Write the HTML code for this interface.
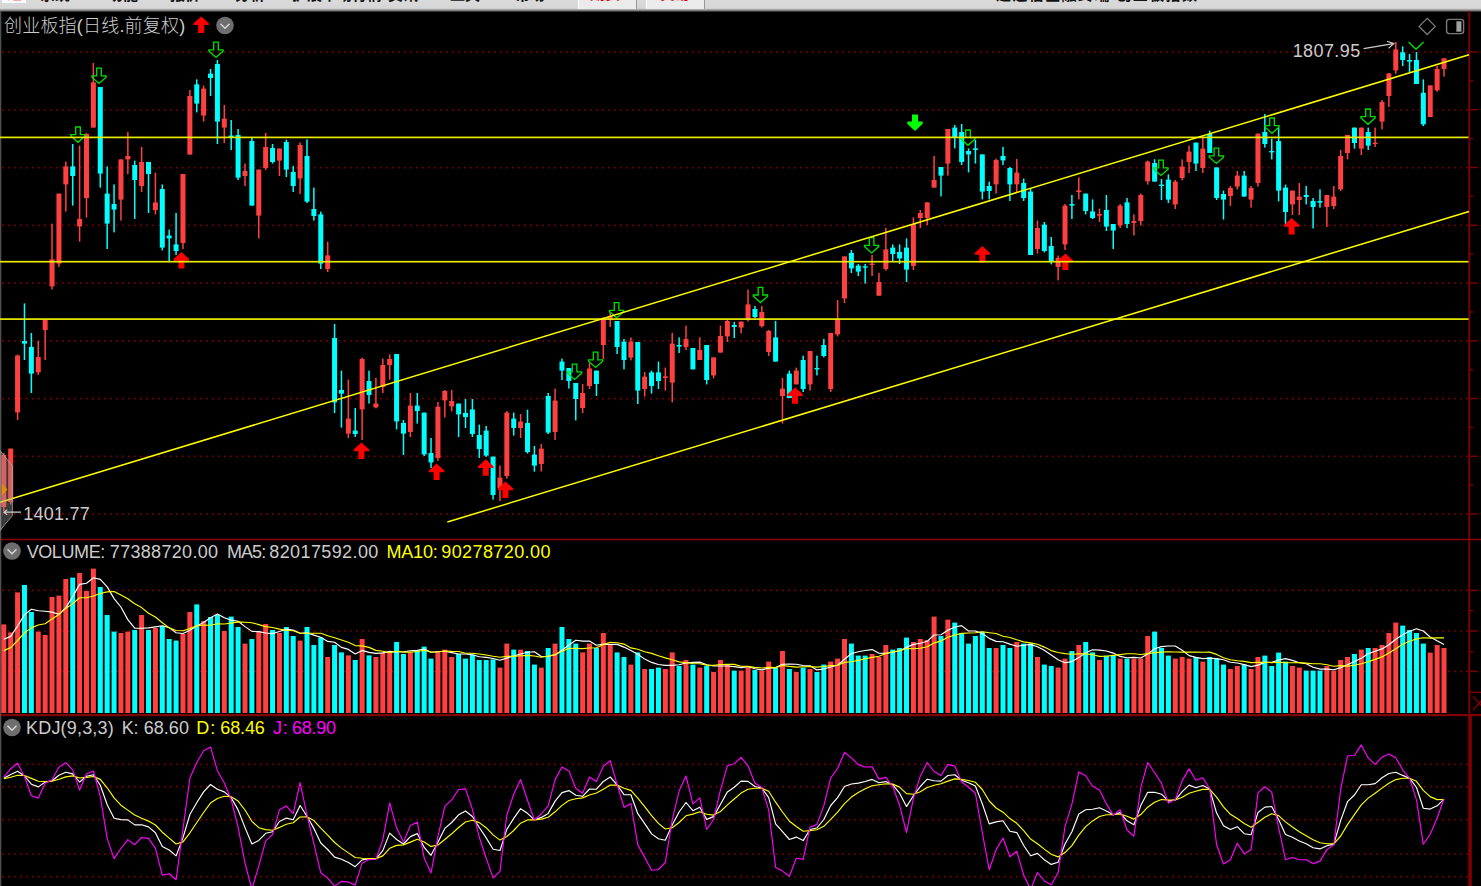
<!DOCTYPE html>
<html><head><meta charset="utf-8"><title>创业板指</title>
<style>
html,body{margin:0;padding:0;background:#000;}
body{width:1481px;height:886px;overflow:hidden;position:relative;font-family:"Liberation Sans", "Noto Sans CJK SC", sans-serif;}
#top{position:absolute;left:0;top:0;width:1481px;height:11px;overflow:hidden;background:linear-gradient(#dadada 0px,#d6d6d6 8.3px,#8a8a8a 10.3px,#000 12.3px);height:13px;}
#top span{position:absolute;top:-12.9px;font-size:15px;line-height:16px;color:#111;white-space:nowrap;font-weight:bold;}
#top .btn{position:absolute;top:0;height:9px;background:#ebebeb;border-left:1px solid #fff;border-right:1px solid #999;}
svg{position:absolute;left:0;top:0;}
.t{position:absolute;white-space:pre;color:#cccccc;font-size:18px;line-height:20px;}
.y{color:#ffff00;} .m{color:#ff00ff;}
</style></head><body>
<div id="top">
<div class="btn" style="left:578px;width:57px"></div><div class="btn" style="left:646px;width:57px"></div>
<div style="position:absolute;left:1.5px;top:0;width:24px;height:3px;background:#fafafa"></div>
<span style="left:7px;color:#ff6060;top:-14px">通</span>
<span style="left:40px">系统</span><span style="left:108px">功能</span><span style="left:170px">报价</span><span style="left:235px">分析</span><span style="left:292px">扩展市场行情</span><span style="left:388px">资讯</span><span style="left:450px">工具</span><span style="left:515px">帮助</span>
<span style="left:590px;color:#e00000;top:-13.6px">期货</span><span style="left:660px;color:#e00000;top:-13.6px">交易</span>
<span style="left:996px;letter-spacing:1.4px">通达信金融终端 创业板指数</span>
</div>
<svg width="1481" height="886" viewBox="0 0 1481 886">
<line x1="2" y1="52.2" x2="1468" y2="52.2" stroke="#780000" stroke-width="1.7" stroke-dasharray="1.7 4.3"/>
<line x1="2" y1="110.0" x2="1468" y2="110.0" stroke="#780000" stroke-width="1.7" stroke-dasharray="1.7 4.3"/>
<line x1="2" y1="167.7" x2="1468" y2="167.7" stroke="#780000" stroke-width="1.7" stroke-dasharray="1.7 4.3"/>
<line x1="2" y1="225.4" x2="1468" y2="225.4" stroke="#780000" stroke-width="1.7" stroke-dasharray="1.7 4.3"/>
<line x1="2" y1="283.2" x2="1468" y2="283.2" stroke="#780000" stroke-width="1.7" stroke-dasharray="1.7 4.3"/>
<line x1="2" y1="340.9" x2="1468" y2="340.9" stroke="#780000" stroke-width="1.7" stroke-dasharray="1.7 4.3"/>
<line x1="2" y1="398.7" x2="1468" y2="398.7" stroke="#780000" stroke-width="1.7" stroke-dasharray="1.7 4.3"/>
<line x1="2" y1="456.4" x2="1468" y2="456.4" stroke="#780000" stroke-width="1.7" stroke-dasharray="1.7 4.3"/>
<line x1="2" y1="514.2" x2="1468" y2="514.2" stroke="#780000" stroke-width="1.7" stroke-dasharray="1.7 4.3"/>
<line x1="2" y1="590.4" x2="1468" y2="590.4" stroke="#780000" stroke-width="1.7" stroke-dasharray="1.7 4.3"/>
<line x1="2" y1="631" x2="1468" y2="631" stroke="#780000" stroke-width="1.7" stroke-dasharray="1.7 4.3"/>
<line x1="2" y1="671.4" x2="1468" y2="671.4" stroke="#780000" stroke-width="1.7" stroke-dasharray="1.7 4.3"/>
<line x1="2" y1="764.4" x2="1468" y2="764.4" stroke="#780000" stroke-width="1.7" stroke-dasharray="1.7 4.3"/>
<line x1="2" y1="786.6" x2="1468" y2="786.6" stroke="#780000" stroke-width="1.7" stroke-dasharray="1.7 4.3"/>
<line x1="2" y1="819.6" x2="1468" y2="819.6" stroke="#780000" stroke-width="1.7" stroke-dasharray="1.7 4.3"/>
<line x1="2" y1="854" x2="1468" y2="854" stroke="#780000" stroke-width="1.7" stroke-dasharray="1.7 4.3"/>
<line x1="2" y1="876.6" x2="1468" y2="876.6" stroke="#780000" stroke-width="1.7" stroke-dasharray="1.7 4.3"/>
<rect x="1468.3" y="11" width="1.9" height="875" fill="#800000"/>
<rect x="0" y="538.7" width="1481" height="1.6" fill="#880000"/>
<rect x="0" y="714" width="1481" height="2.2" fill="#800000"/>
<rect x="0" y="11" width="1.3" height="875" fill="#505050"/>
<rect x="1470" y="51.3" width="8" height="1.4" fill="#800000"/>
<rect x="1470" y="80.2" width="3.2" height="1.4" fill="#800000"/>
<rect x="1470" y="109.0" width="8" height="1.4" fill="#800000"/>
<rect x="1470" y="137.9" width="3.2" height="1.4" fill="#800000"/>
<rect x="1470" y="166.8" width="8" height="1.4" fill="#800000"/>
<rect x="1470" y="195.7" width="3.2" height="1.4" fill="#800000"/>
<rect x="1470" y="224.6" width="8" height="1.4" fill="#800000"/>
<rect x="1470" y="253.4" width="3.2" height="1.4" fill="#800000"/>
<rect x="1470" y="282.3" width="8" height="1.4" fill="#800000"/>
<rect x="1470" y="311.2" width="3.2" height="1.4" fill="#800000"/>
<rect x="1470" y="340.1" width="8" height="1.4" fill="#800000"/>
<rect x="1470" y="368.9" width="3.2" height="1.4" fill="#800000"/>
<rect x="1470" y="397.8" width="8" height="1.4" fill="#800000"/>
<rect x="1470" y="426.7" width="3.2" height="1.4" fill="#800000"/>
<rect x="1470" y="455.6" width="8" height="1.4" fill="#800000"/>
<rect x="1470" y="484.4" width="3.2" height="1.4" fill="#800000"/>
<rect x="1470" y="513.3" width="8" height="1.4" fill="#800000"/>
<rect x="1470" y="589.7" width="8" height="1.4" fill="#800000"/>
<rect x="1470" y="630.3" width="8" height="1.4" fill="#800000"/>
<rect x="1470" y="670.7" width="8" height="1.4" fill="#800000"/>
<rect x="1470" y="610.0" width="3.2" height="1.4" fill="#800000"/>
<rect x="1470" y="650.9" width="3.2" height="1.4" fill="#800000"/>
<rect x="1470" y="691.6" width="11" height="1.5" fill="#800000"/>
<path d="M1473.1 696.4 L1482 706.4 M1473.1 710 L1482 700" stroke="#800000" stroke-width="1.4" fill="none"/>
<rect x="1468.6" y="716" width="3.2" height="170" fill="#800000"/>
<rect x="3.05" y="453.0" width="1.5" height="58.0" fill="#ff4040"/>
<rect x="1.30" y="455.0" width="5" height="52.0" fill="#ff4040"/>
<rect x="9.94" y="448.6" width="1.5" height="55.9" fill="#ff4040"/>
<rect x="8.19" y="448.6" width="5" height="53.4" fill="#ff4040"/>
<rect x="16.83" y="354.5" width="1.5" height="65.5" fill="#ff4040"/>
<rect x="15.08" y="355.5" width="5" height="56.9" fill="#ff4040"/>
<rect x="23.72" y="303.4" width="1.5" height="56.6" fill="#00ffff"/>
<rect x="21.97" y="341.0" width="5" height="2.6" fill="#00ffff"/>
<rect x="30.61" y="333.0" width="1.5" height="60.0" fill="#00ffff"/>
<rect x="28.86" y="347.0" width="5" height="26.6" fill="#00ffff"/>
<rect x="37.50" y="341.0" width="1.5" height="34.0" fill="#ff4040"/>
<rect x="35.75" y="357.0" width="5" height="15.4" fill="#ff4040"/>
<rect x="44.40" y="319.4" width="1.5" height="40.6" fill="#ff4040"/>
<rect x="42.65" y="319.4" width="5" height="10.6" fill="#ff4040"/>
<rect x="51.29" y="223.6" width="1.5" height="66.0" fill="#ff4040"/>
<rect x="49.54" y="259.4" width="5" height="27.0" fill="#ff4040"/>
<rect x="58.18" y="193.6" width="1.5" height="73.4" fill="#ff4040"/>
<rect x="56.43" y="193.6" width="5" height="70.0" fill="#ff4040"/>
<rect x="65.07" y="161.6" width="1.5" height="50.0" fill="#ff4040"/>
<rect x="63.32" y="166.4" width="5" height="18.0" fill="#ff4040"/>
<rect x="71.96" y="144.0" width="1.5" height="61.6" fill="#00ffff"/>
<rect x="70.21" y="166.4" width="5" height="9.6" fill="#00ffff"/>
<rect x="78.85" y="145.6" width="1.5" height="96.0" fill="#ff4040"/>
<rect x="77.10" y="219.0" width="5" height="7.4" fill="#ff4040"/>
<rect x="85.74" y="133.0" width="1.5" height="84.6" fill="#ff4040"/>
<rect x="83.99" y="134.0" width="5" height="64.0" fill="#ff4040"/>
<rect x="92.63" y="63.0" width="1.5" height="64.6" fill="#ff4040"/>
<rect x="90.88" y="82.4" width="5" height="45.2" fill="#ff4040"/>
<rect x="99.52" y="87.0" width="1.5" height="100.6" fill="#00ffff"/>
<rect x="97.77" y="87.0" width="5" height="86.6" fill="#00ffff"/>
<rect x="106.41" y="166.4" width="1.5" height="82.6" fill="#00ffff"/>
<rect x="104.66" y="193.6" width="5" height="30.0" fill="#00ffff"/>
<rect x="113.31" y="184.4" width="1.5" height="48.0" fill="#00ffff"/>
<rect x="111.56" y="204.0" width="5" height="5.6" fill="#00ffff"/>
<rect x="120.20" y="159.4" width="1.5" height="61.2" fill="#ff4040"/>
<rect x="118.45" y="159.4" width="5" height="40.2" fill="#ff4040"/>
<rect x="127.09" y="132.0" width="1.5" height="42.0" fill="#ff4040"/>
<rect x="125.34" y="156.0" width="5" height="3.4" fill="#ff4040"/>
<rect x="133.98" y="160.6" width="1.5" height="58.4" fill="#00ffff"/>
<rect x="132.23" y="165.0" width="5" height="15.0" fill="#00ffff"/>
<rect x="140.87" y="147.0" width="1.5" height="45.0" fill="#ff4040"/>
<rect x="139.12" y="162.0" width="5" height="24.0" fill="#ff4040"/>
<rect x="147.76" y="162.0" width="1.5" height="51.0" fill="#00ffff"/>
<rect x="146.01" y="162.0" width="5" height="12.0" fill="#00ffff"/>
<rect x="154.65" y="172.6" width="1.5" height="41.8" fill="#ff4040"/>
<rect x="152.90" y="202.5" width="5" height="7.5" fill="#ff4040"/>
<rect x="161.54" y="184.4" width="1.5" height="66.0" fill="#00ffff"/>
<rect x="159.79" y="189.0" width="5" height="58.6" fill="#00ffff"/>
<rect x="168.43" y="229.6" width="1.5" height="31.4" fill="#00ffff"/>
<rect x="166.68" y="235.6" width="5" height="2.8" fill="#00ffff"/>
<rect x="175.33" y="213.0" width="1.5" height="42.0" fill="#00ffff"/>
<rect x="173.58" y="244.4" width="5" height="6.6" fill="#00ffff"/>
<rect x="182.22" y="174.0" width="1.5" height="75.0" fill="#ff4040"/>
<rect x="180.47" y="174.0" width="5" height="69.0" fill="#ff4040"/>
<rect x="189.11" y="90.0" width="1.5" height="64.6" fill="#ff4040"/>
<rect x="187.36" y="96.0" width="5" height="58.6" fill="#ff4040"/>
<rect x="196.00" y="79.4" width="1.5" height="33.0" fill="#00ffff"/>
<rect x="194.25" y="84.4" width="5" height="19.2" fill="#00ffff"/>
<rect x="202.89" y="85.6" width="1.5" height="36.0" fill="#ff4040"/>
<rect x="201.14" y="88.6" width="5" height="27.0" fill="#ff4040"/>
<rect x="209.78" y="69.0" width="1.5" height="27.0" fill="#00ffff"/>
<rect x="208.03" y="73.6" width="5" height="4.4" fill="#00ffff"/>
<rect x="216.67" y="60.0" width="1.5" height="84.0" fill="#00ffff"/>
<rect x="214.92" y="64.0" width="5" height="57.6" fill="#00ffff"/>
<rect x="223.56" y="105.0" width="1.5" height="38.0" fill="#ff4040"/>
<rect x="221.81" y="118.6" width="5" height="9.0" fill="#ff4040"/>
<rect x="230.45" y="120.0" width="1.5" height="30.0" fill="#00ffff"/>
<rect x="228.70" y="135.6" width="5" height="2.4" fill="#00ffff"/>
<rect x="237.34" y="129.0" width="1.5" height="51.0" fill="#00ffff"/>
<rect x="235.59" y="135.0" width="5" height="42.6" fill="#00ffff"/>
<rect x="244.24" y="163.6" width="1.5" height="22.4" fill="#ff4040"/>
<rect x="242.49" y="171.0" width="5" height="5.0" fill="#ff4040"/>
<rect x="251.13" y="138.0" width="1.5" height="67.6" fill="#00ffff"/>
<rect x="249.38" y="141.0" width="5" height="64.6" fill="#00ffff"/>
<rect x="258.02" y="169.6" width="1.5" height="68.8" fill="#ff4040"/>
<rect x="256.27" y="169.6" width="5" height="46.0" fill="#ff4040"/>
<rect x="264.91" y="133.0" width="1.5" height="37.0" fill="#ff4040"/>
<rect x="263.16" y="147.0" width="5" height="21.0" fill="#ff4040"/>
<rect x="271.80" y="144.0" width="1.5" height="19.6" fill="#00ffff"/>
<rect x="270.05" y="148.0" width="5" height="14.0" fill="#00ffff"/>
<rect x="278.69" y="148.6" width="1.5" height="27.4" fill="#ff4040"/>
<rect x="276.94" y="148.6" width="5" height="12.0" fill="#ff4040"/>
<rect x="285.58" y="139.6" width="1.5" height="37.4" fill="#00ffff"/>
<rect x="283.83" y="142.0" width="5" height="27.6" fill="#00ffff"/>
<rect x="292.47" y="166.0" width="1.5" height="26.0" fill="#00ffff"/>
<rect x="290.72" y="172.0" width="5" height="14.0" fill="#00ffff"/>
<rect x="299.36" y="142.4" width="1.5" height="51.6" fill="#ff4040"/>
<rect x="297.61" y="145.0" width="5" height="33.4" fill="#ff4040"/>
<rect x="306.25" y="139.4" width="1.5" height="63.6" fill="#00ffff"/>
<rect x="304.50" y="156.0" width="5" height="45.6" fill="#00ffff"/>
<rect x="313.15" y="187.6" width="1.5" height="33.0" fill="#00ffff"/>
<rect x="311.40" y="209.0" width="5" height="7.0" fill="#00ffff"/>
<rect x="320.04" y="211.6" width="1.5" height="57.4" fill="#00ffff"/>
<rect x="318.29" y="214.4" width="5" height="49.2" fill="#00ffff"/>
<rect x="326.93" y="241.6" width="1.5" height="30.4" fill="#ff4040"/>
<rect x="325.18" y="255.4" width="5" height="13.6" fill="#ff4040"/>
<rect x="333.82" y="324.0" width="1.5" height="89.0" fill="#00ffff"/>
<rect x="332.07" y="338.0" width="5" height="64.4" fill="#00ffff"/>
<rect x="340.71" y="370.6" width="1.5" height="57.0" fill="#00ffff"/>
<rect x="338.96" y="390.0" width="5" height="3.6" fill="#00ffff"/>
<rect x="347.60" y="379.6" width="1.5" height="58.4" fill="#ff4040"/>
<rect x="345.85" y="418.6" width="5" height="15.0" fill="#ff4040"/>
<rect x="354.49" y="408.0" width="1.5" height="29.0" fill="#00ffff"/>
<rect x="352.74" y="430.6" width="5" height="3.4" fill="#00ffff"/>
<rect x="361.38" y="357.6" width="1.5" height="82.4" fill="#ff4040"/>
<rect x="359.63" y="359.0" width="5" height="50.4" fill="#ff4040"/>
<rect x="368.27" y="370.6" width="1.5" height="33.0" fill="#00ffff"/>
<rect x="366.52" y="381.0" width="5" height="14.0" fill="#00ffff"/>
<rect x="375.16" y="378.0" width="1.5" height="30.4" fill="#ff4040"/>
<rect x="373.41" y="403.6" width="5" height="3.8" fill="#ff4040"/>
<rect x="382.06" y="358.6" width="1.5" height="34.4" fill="#ff4040"/>
<rect x="380.31" y="365.0" width="5" height="22.0" fill="#ff4040"/>
<rect x="388.95" y="354.4" width="1.5" height="25.2" fill="#ff4040"/>
<rect x="387.20" y="359.0" width="5" height="6.0" fill="#ff4040"/>
<rect x="395.84" y="354.0" width="1.5" height="75.4" fill="#00ffff"/>
<rect x="394.09" y="354.0" width="5" height="67.4" fill="#00ffff"/>
<rect x="402.73" y="420.0" width="1.5" height="35.0" fill="#00ffff"/>
<rect x="400.98" y="423.0" width="5" height="10.6" fill="#00ffff"/>
<rect x="409.62" y="393.0" width="1.5" height="44.0" fill="#ff4040"/>
<rect x="407.87" y="405.6" width="5" height="26.4" fill="#ff4040"/>
<rect x="416.51" y="393.0" width="1.5" height="30.6" fill="#00ffff"/>
<rect x="414.76" y="405.6" width="5" height="5.4" fill="#00ffff"/>
<rect x="423.40" y="412.6" width="1.5" height="43.4" fill="#00ffff"/>
<rect x="421.65" y="412.6" width="5" height="41.8" fill="#00ffff"/>
<rect x="430.29" y="438.0" width="1.5" height="30.0" fill="#00ffff"/>
<rect x="428.54" y="453.0" width="5" height="9.4" fill="#00ffff"/>
<rect x="437.18" y="402.0" width="1.5" height="59.0" fill="#ff4040"/>
<rect x="435.43" y="406.6" width="5" height="51.4" fill="#ff4040"/>
<rect x="444.07" y="390.0" width="1.5" height="27.4" fill="#ff4040"/>
<rect x="442.32" y="391.0" width="5" height="9.4" fill="#ff4040"/>
<rect x="450.97" y="390.0" width="1.5" height="21.4" fill="#ff4040"/>
<rect x="449.22" y="401.0" width="5" height="5.4" fill="#ff4040"/>
<rect x="457.86" y="403.6" width="1.5" height="33.4" fill="#00ffff"/>
<rect x="456.11" y="403.6" width="5" height="10.8" fill="#00ffff"/>
<rect x="464.75" y="399.0" width="1.5" height="29.0" fill="#00ffff"/>
<rect x="463.00" y="413.0" width="5" height="4.0" fill="#00ffff"/>
<rect x="471.64" y="399.0" width="1.5" height="38.0" fill="#00ffff"/>
<rect x="469.89" y="409.4" width="5" height="24.6" fill="#00ffff"/>
<rect x="478.53" y="424.6" width="1.5" height="33.4" fill="#00ffff"/>
<rect x="476.78" y="435.0" width="5" height="14.0" fill="#00ffff"/>
<rect x="485.42" y="426.0" width="1.5" height="31.0" fill="#00ffff"/>
<rect x="483.67" y="430.6" width="5" height="25.0" fill="#00ffff"/>
<rect x="492.31" y="456.6" width="1.5" height="43.0" fill="#00ffff"/>
<rect x="490.56" y="456.6" width="5" height="38.4" fill="#00ffff"/>
<rect x="499.20" y="465.6" width="1.5" height="35.4" fill="#ff4040"/>
<rect x="497.45" y="477.6" width="5" height="10.4" fill="#ff4040"/>
<rect x="506.09" y="411.0" width="1.5" height="67.6" fill="#ff4040"/>
<rect x="504.34" y="412.6" width="5" height="63.4" fill="#ff4040"/>
<rect x="512.98" y="412.6" width="1.5" height="23.0" fill="#00ffff"/>
<rect x="511.23" y="418.6" width="5" height="9.4" fill="#00ffff"/>
<rect x="519.88" y="414.0" width="1.5" height="24.0" fill="#ff4040"/>
<rect x="518.12" y="421.6" width="5" height="6.4" fill="#ff4040"/>
<rect x="526.77" y="409.6" width="1.5" height="44.0" fill="#00ffff"/>
<rect x="525.02" y="423.0" width="5" height="29.0" fill="#00ffff"/>
<rect x="533.66" y="446.0" width="1.5" height="25.6" fill="#00ffff"/>
<rect x="531.91" y="454.6" width="5" height="11.0" fill="#00ffff"/>
<rect x="540.55" y="444.0" width="1.5" height="27.6" fill="#ff4040"/>
<rect x="538.80" y="448.6" width="5" height="15.4" fill="#ff4040"/>
<rect x="547.44" y="393.0" width="1.5" height="41.0" fill="#00ffff"/>
<rect x="545.69" y="396.0" width="5" height="36.6" fill="#00ffff"/>
<rect x="554.33" y="388.6" width="1.5" height="51.4" fill="#ff4040"/>
<rect x="552.58" y="400.6" width="5" height="31.4" fill="#ff4040"/>
<rect x="561.22" y="358.6" width="1.5" height="21.4" fill="#00ffff"/>
<rect x="559.47" y="361.6" width="5" height="9.0" fill="#00ffff"/>
<rect x="568.11" y="368.0" width="1.5" height="20.6" fill="#00ffff"/>
<rect x="566.36" y="368.0" width="5" height="13.0" fill="#00ffff"/>
<rect x="575.00" y="383.0" width="1.5" height="37.4" fill="#00ffff"/>
<rect x="573.25" y="383.0" width="5" height="16.0" fill="#00ffff"/>
<rect x="581.89" y="384.0" width="1.5" height="29.0" fill="#ff4040"/>
<rect x="580.14" y="393.0" width="5" height="15.0" fill="#ff4040"/>
<rect x="588.78" y="363.0" width="1.5" height="26.0" fill="#ff4040"/>
<rect x="587.03" y="368.5" width="5" height="17.5" fill="#ff4040"/>
<rect x="595.68" y="370.6" width="1.5" height="25.4" fill="#00ffff"/>
<rect x="593.93" y="370.6" width="5" height="13.4" fill="#00ffff"/>
<rect x="602.57" y="317.0" width="1.5" height="42.0" fill="#ff4040"/>
<rect x="600.82" y="319.0" width="5" height="26.0" fill="#ff4040"/>
<rect x="609.46" y="312.0" width="1.5" height="15.0" fill="#ff4040"/>
<rect x="607.71" y="316.0" width="5" height="4.0" fill="#ff4040"/>
<rect x="616.35" y="321.0" width="1.5" height="33.0" fill="#00ffff"/>
<rect x="614.60" y="321.0" width="5" height="26.0" fill="#00ffff"/>
<rect x="623.24" y="339.0" width="1.5" height="30.4" fill="#00ffff"/>
<rect x="621.49" y="341.6" width="5" height="18.4" fill="#00ffff"/>
<rect x="630.13" y="337.4" width="1.5" height="23.0" fill="#ff4040"/>
<rect x="628.38" y="341.6" width="5" height="16.0" fill="#ff4040"/>
<rect x="637.02" y="342.0" width="1.5" height="62.0" fill="#00ffff"/>
<rect x="635.27" y="342.0" width="5" height="48.6" fill="#00ffff"/>
<rect x="643.91" y="372.0" width="1.5" height="24.6" fill="#ff4040"/>
<rect x="642.16" y="376.6" width="5" height="12.4" fill="#ff4040"/>
<rect x="650.80" y="370.6" width="1.5" height="23.0" fill="#00ffff"/>
<rect x="649.05" y="372.4" width="5" height="13.6" fill="#00ffff"/>
<rect x="657.69" y="361.6" width="1.5" height="27.4" fill="#00ffff"/>
<rect x="655.94" y="372.4" width="5" height="8.6" fill="#00ffff"/>
<rect x="664.59" y="367.6" width="1.5" height="23.0" fill="#ff4040"/>
<rect x="662.84" y="376.4" width="5" height="1.6" fill="#ff4040"/>
<rect x="671.48" y="333.0" width="1.5" height="69.4" fill="#ff4040"/>
<rect x="669.73" y="343.6" width="5" height="39.0" fill="#ff4040"/>
<rect x="678.37" y="337.4" width="1.5" height="15.6" fill="#00ffff"/>
<rect x="676.62" y="345.0" width="5" height="1.6" fill="#00ffff"/>
<rect x="685.26" y="325.6" width="1.5" height="24.4" fill="#ff4040"/>
<rect x="683.51" y="339.0" width="5" height="8.0" fill="#ff4040"/>
<rect x="692.15" y="348.0" width="1.5" height="21.4" fill="#00ffff"/>
<rect x="690.40" y="348.0" width="5" height="21.4" fill="#00ffff"/>
<rect x="699.04" y="337.4" width="1.5" height="22.6" fill="#ff4040"/>
<rect x="697.29" y="350.0" width="5" height="10.0" fill="#ff4040"/>
<rect x="705.93" y="345.0" width="1.5" height="39.4" fill="#00ffff"/>
<rect x="704.18" y="345.0" width="5" height="35.0" fill="#00ffff"/>
<rect x="712.82" y="357.4" width="1.5" height="21.0" fill="#ff4040"/>
<rect x="711.07" y="357.4" width="5" height="18.0" fill="#ff4040"/>
<rect x="719.71" y="325.6" width="1.5" height="27.0" fill="#ff4040"/>
<rect x="717.96" y="336.0" width="5" height="16.6" fill="#ff4040"/>
<rect x="726.60" y="319.0" width="1.5" height="23.0" fill="#ff4040"/>
<rect x="724.85" y="321.0" width="5" height="15.4" fill="#ff4040"/>
<rect x="733.50" y="322.0" width="1.5" height="16.0" fill="#00ffff"/>
<rect x="731.75" y="325.0" width="5" height="2.0" fill="#00ffff"/>
<rect x="740.39" y="321.6" width="1.5" height="11.8" fill="#ff4040"/>
<rect x="738.64" y="321.6" width="5" height="6.0" fill="#ff4040"/>
<rect x="747.28" y="289.6" width="1.5" height="32.0" fill="#ff4040"/>
<rect x="745.53" y="304.4" width="5" height="14.6" fill="#ff4040"/>
<rect x="754.17" y="306.0" width="1.5" height="12.4" fill="#00ffff"/>
<rect x="752.42" y="309.0" width="5" height="8.0" fill="#00ffff"/>
<rect x="761.06" y="306.0" width="1.5" height="21.6" fill="#ff4040"/>
<rect x="759.31" y="312.0" width="5" height="14.0" fill="#ff4040"/>
<rect x="767.95" y="330.0" width="1.5" height="26.0" fill="#ff4040"/>
<rect x="766.20" y="331.0" width="5" height="21.0" fill="#ff4040"/>
<rect x="774.84" y="321.0" width="1.5" height="40.6" fill="#00ffff"/>
<rect x="773.09" y="337.4" width="5" height="24.2" fill="#00ffff"/>
<rect x="781.73" y="378.0" width="1.5" height="45.6" fill="#ff4040"/>
<rect x="779.98" y="388.6" width="5" height="7.4" fill="#ff4040"/>
<rect x="788.62" y="370.6" width="1.5" height="27.4" fill="#00ffff"/>
<rect x="786.87" y="373.6" width="5" height="24.4" fill="#00ffff"/>
<rect x="795.51" y="367.6" width="1.5" height="16.8" fill="#ff4040"/>
<rect x="793.76" y="370.6" width="5" height="13.8" fill="#ff4040"/>
<rect x="802.41" y="355.6" width="1.5" height="36.4" fill="#00ffff"/>
<rect x="800.66" y="360.0" width="5" height="29.0" fill="#00ffff"/>
<rect x="809.30" y="351.0" width="1.5" height="39.6" fill="#ff4040"/>
<rect x="807.55" y="351.0" width="5" height="33.4" fill="#ff4040"/>
<rect x="816.19" y="355.6" width="1.5" height="19.8" fill="#00ffff"/>
<rect x="814.44" y="368.0" width="5" height="1.4" fill="#00ffff"/>
<rect x="823.08" y="339.0" width="1.5" height="18.4" fill="#00ffff"/>
<rect x="821.33" y="345.0" width="5" height="11.0" fill="#00ffff"/>
<rect x="829.97" y="333.0" width="1.5" height="59.0" fill="#ff4040"/>
<rect x="828.22" y="333.0" width="5" height="56.0" fill="#ff4040"/>
<rect x="836.86" y="300.0" width="1.5" height="36.4" fill="#ff4040"/>
<rect x="835.11" y="319.0" width="5" height="15.4" fill="#ff4040"/>
<rect x="843.75" y="256.4" width="1.5" height="46.6" fill="#ff4040"/>
<rect x="842.00" y="256.4" width="5" height="42.0" fill="#ff4040"/>
<rect x="850.64" y="250.0" width="1.5" height="23.0" fill="#00ffff"/>
<rect x="848.89" y="253.0" width="5" height="15.4" fill="#00ffff"/>
<rect x="857.53" y="264.0" width="1.5" height="12.0" fill="#00ffff"/>
<rect x="855.78" y="265.6" width="5" height="6.0" fill="#00ffff"/>
<rect x="864.42" y="264.0" width="1.5" height="19.6" fill="#00ffff"/>
<rect x="862.67" y="266.3" width="5" height="1.4" fill="#00ffff"/>
<rect x="871.32" y="255.0" width="1.5" height="21.0" fill="#ff4040"/>
<rect x="869.57" y="263.6" width="5" height="1.4" fill="#ff4040"/>
<rect x="878.21" y="272.8" width="1.5" height="22.9" fill="#ff4040"/>
<rect x="876.46" y="282.0" width="5" height="13.7" fill="#ff4040"/>
<rect x="885.10" y="228.0" width="1.5" height="42.6" fill="#ff4040"/>
<rect x="883.35" y="249.4" width="5" height="19.6" fill="#ff4040"/>
<rect x="891.99" y="244.4" width="1.5" height="16.6" fill="#00ffff"/>
<rect x="890.24" y="247.6" width="5" height="6.4" fill="#00ffff"/>
<rect x="898.88" y="244.4" width="1.5" height="19.6" fill="#00ffff"/>
<rect x="897.13" y="252.0" width="5" height="6.4" fill="#00ffff"/>
<rect x="905.77" y="238.4" width="1.5" height="43.6" fill="#00ffff"/>
<rect x="904.02" y="247.6" width="5" height="22.0" fill="#00ffff"/>
<rect x="912.66" y="217.4" width="1.5" height="52.6" fill="#ff4040"/>
<rect x="910.91" y="224.0" width="5" height="42.0" fill="#ff4040"/>
<rect x="919.55" y="210.0" width="1.5" height="18.0" fill="#ff4040"/>
<rect x="917.80" y="213.0" width="5" height="5.0" fill="#ff4040"/>
<rect x="926.44" y="202.4" width="1.5" height="22.6" fill="#ff4040"/>
<rect x="924.69" y="202.4" width="5" height="15.6" fill="#ff4040"/>
<rect x="933.33" y="156.0" width="1.5" height="31.6" fill="#ff4040"/>
<rect x="931.58" y="180.0" width="5" height="7.6" fill="#ff4040"/>
<rect x="940.23" y="167.0" width="1.5" height="29.4" fill="#00ffff"/>
<rect x="938.48" y="167.0" width="5" height="8.6" fill="#00ffff"/>
<rect x="947.12" y="129.0" width="1.5" height="46.6" fill="#ff4040"/>
<rect x="945.37" y="129.0" width="5" height="34.6" fill="#ff4040"/>
<rect x="954.01" y="125.0" width="1.5" height="23.4" fill="#00ffff"/>
<rect x="952.26" y="127.6" width="5" height="9.4" fill="#00ffff"/>
<rect x="960.90" y="124.0" width="1.5" height="41.0" fill="#00ffff"/>
<rect x="959.15" y="132.0" width="5" height="30.0" fill="#00ffff"/>
<rect x="967.79" y="148.4" width="1.5" height="24.0" fill="#00ffff"/>
<rect x="966.04" y="151.0" width="5" height="3.4" fill="#00ffff"/>
<rect x="974.68" y="140.0" width="1.5" height="23.6" fill="#00ffff"/>
<rect x="972.93" y="148.4" width="5" height="1.6" fill="#00ffff"/>
<rect x="981.57" y="154.4" width="1.5" height="45.0" fill="#00ffff"/>
<rect x="979.82" y="154.4" width="5" height="37.2" fill="#00ffff"/>
<rect x="988.46" y="181.6" width="1.5" height="17.8" fill="#00ffff"/>
<rect x="986.71" y="186.0" width="5" height="5.0" fill="#00ffff"/>
<rect x="995.35" y="158.6" width="1.5" height="35.0" fill="#ff4040"/>
<rect x="993.60" y="160.0" width="5" height="24.4" fill="#ff4040"/>
<rect x="1002.25" y="147.0" width="1.5" height="18.0" fill="#00ffff"/>
<rect x="1000.50" y="156.0" width="5" height="4.4" fill="#00ffff"/>
<rect x="1009.14" y="167.0" width="1.5" height="34.0" fill="#00ffff"/>
<rect x="1007.39" y="168.0" width="5" height="16.4" fill="#00ffff"/>
<rect x="1016.03" y="159.0" width="1.5" height="33.0" fill="#ff4040"/>
<rect x="1014.28" y="172.6" width="5" height="11.8" fill="#ff4040"/>
<rect x="1022.92" y="178.6" width="1.5" height="22.4" fill="#00ffff"/>
<rect x="1021.17" y="183.0" width="5" height="15.0" fill="#00ffff"/>
<rect x="1029.81" y="189.0" width="1.5" height="66.0" fill="#00ffff"/>
<rect x="1028.06" y="191.6" width="5" height="63.4" fill="#00ffff"/>
<rect x="1036.70" y="220.6" width="1.5" height="33.0" fill="#ff4040"/>
<rect x="1034.95" y="228.0" width="5" height="21.0" fill="#ff4040"/>
<rect x="1043.59" y="222.0" width="1.5" height="30.4" fill="#00ffff"/>
<rect x="1041.84" y="224.6" width="5" height="26.4" fill="#00ffff"/>
<rect x="1050.48" y="237.0" width="1.5" height="27.4" fill="#00ffff"/>
<rect x="1048.73" y="246.0" width="5" height="15.4" fill="#00ffff"/>
<rect x="1057.37" y="255.6" width="1.5" height="24.8" fill="#ff4040"/>
<rect x="1055.62" y="258.0" width="5" height="9.0" fill="#ff4040"/>
<rect x="1064.26" y="204.0" width="1.5" height="46.0" fill="#ff4040"/>
<rect x="1062.51" y="205.6" width="5" height="38.8" fill="#ff4040"/>
<rect x="1071.15" y="195.0" width="1.5" height="24.0" fill="#00ffff"/>
<rect x="1069.40" y="204.0" width="5" height="1.6" fill="#00ffff"/>
<rect x="1078.05" y="177.4" width="1.5" height="22.0" fill="#ff4040"/>
<rect x="1076.30" y="190.4" width="5" height="1.6" fill="#ff4040"/>
<rect x="1084.94" y="193.6" width="1.5" height="20.8" fill="#00ffff"/>
<rect x="1083.19" y="193.6" width="5" height="17.4" fill="#00ffff"/>
<rect x="1091.83" y="199.4" width="1.5" height="19.6" fill="#00ffff"/>
<rect x="1090.08" y="211.4" width="5" height="6.6" fill="#00ffff"/>
<rect x="1098.72" y="208.6" width="1.5" height="13.4" fill="#ff4040"/>
<rect x="1096.97" y="214.0" width="5" height="1.6" fill="#ff4040"/>
<rect x="1105.61" y="195.0" width="1.5" height="36.0" fill="#00ffff"/>
<rect x="1103.86" y="210.0" width="5" height="16.6" fill="#00ffff"/>
<rect x="1112.50" y="224.0" width="1.5" height="25.0" fill="#00ffff"/>
<rect x="1110.75" y="224.0" width="5" height="6.6" fill="#00ffff"/>
<rect x="1119.39" y="204.0" width="1.5" height="24.0" fill="#ff4040"/>
<rect x="1117.64" y="205.6" width="5" height="19.8" fill="#ff4040"/>
<rect x="1126.28" y="198.0" width="1.5" height="30.0" fill="#00ffff"/>
<rect x="1124.53" y="202.4" width="5" height="21.6" fill="#00ffff"/>
<rect x="1133.17" y="214.4" width="1.5" height="21.0" fill="#ff4040"/>
<rect x="1131.42" y="221.0" width="5" height="2.0" fill="#ff4040"/>
<rect x="1140.07" y="193.6" width="1.5" height="31.8" fill="#ff4040"/>
<rect x="1138.32" y="195.0" width="5" height="26.0" fill="#ff4040"/>
<rect x="1146.96" y="160.6" width="1.5" height="24.0" fill="#ff4040"/>
<rect x="1145.21" y="161.6" width="5" height="19.7" fill="#ff4040"/>
<rect x="1153.85" y="159.2" width="1.5" height="22.4" fill="#00ffff"/>
<rect x="1152.10" y="163.0" width="5" height="18.6" fill="#00ffff"/>
<rect x="1160.74" y="179.0" width="1.5" height="21.0" fill="#00ffff"/>
<rect x="1158.99" y="184.6" width="5" height="1.4" fill="#00ffff"/>
<rect x="1167.63" y="174.4" width="1.5" height="28.6" fill="#00ffff"/>
<rect x="1165.88" y="179.6" width="5" height="20.0" fill="#00ffff"/>
<rect x="1174.52" y="180.0" width="1.5" height="29.0" fill="#ff4040"/>
<rect x="1172.77" y="181.6" width="5" height="22.8" fill="#ff4040"/>
<rect x="1181.41" y="159.4" width="1.5" height="21.0" fill="#ff4040"/>
<rect x="1179.66" y="166.6" width="5" height="11.4" fill="#ff4040"/>
<rect x="1188.30" y="145.6" width="1.5" height="27.4" fill="#ff4040"/>
<rect x="1186.55" y="151.6" width="5" height="10.4" fill="#ff4040"/>
<rect x="1195.19" y="142.6" width="1.5" height="28.4" fill="#00ffff"/>
<rect x="1193.44" y="142.6" width="5" height="21.0" fill="#00ffff"/>
<rect x="1202.08" y="138.0" width="1.5" height="35.0" fill="#ff4040"/>
<rect x="1200.33" y="148.6" width="5" height="19.4" fill="#ff4040"/>
<rect x="1208.97" y="130.6" width="1.5" height="22.4" fill="#00ffff"/>
<rect x="1207.22" y="134.0" width="5" height="19.0" fill="#00ffff"/>
<rect x="1215.87" y="167.4" width="1.5" height="32.6" fill="#00ffff"/>
<rect x="1214.12" y="167.4" width="5" height="30.6" fill="#00ffff"/>
<rect x="1222.76" y="190.6" width="1.5" height="29.0" fill="#00ffff"/>
<rect x="1221.01" y="194.0" width="5" height="5.6" fill="#00ffff"/>
<rect x="1229.65" y="186.0" width="1.5" height="20.0" fill="#ff4040"/>
<rect x="1227.90" y="188.0" width="5" height="8.0" fill="#ff4040"/>
<rect x="1236.54" y="171.0" width="1.5" height="18.4" fill="#ff4040"/>
<rect x="1234.79" y="175.6" width="5" height="11.0" fill="#ff4040"/>
<rect x="1243.43" y="171.0" width="1.5" height="25.6" fill="#00ffff"/>
<rect x="1241.68" y="175.6" width="5" height="21.0" fill="#00ffff"/>
<rect x="1250.32" y="186.0" width="1.5" height="21.6" fill="#ff4040"/>
<rect x="1248.57" y="188.0" width="5" height="11.6" fill="#ff4040"/>
<rect x="1257.21" y="133.6" width="1.5" height="53.0" fill="#ff4040"/>
<rect x="1255.46" y="133.6" width="5" height="49.4" fill="#ff4040"/>
<rect x="1264.10" y="114.0" width="1.5" height="33.6" fill="#00ffff"/>
<rect x="1262.35" y="132.0" width="5" height="12.0" fill="#00ffff"/>
<rect x="1270.99" y="138.6" width="1.5" height="20.8" fill="#00ffff"/>
<rect x="1269.24" y="151.0" width="5" height="1.4" fill="#00ffff"/>
<rect x="1277.88" y="128.0" width="1.5" height="73.4" fill="#00ffff"/>
<rect x="1276.13" y="141.0" width="5" height="49.6" fill="#00ffff"/>
<rect x="1284.78" y="184.6" width="1.5" height="39.4" fill="#00ffff"/>
<rect x="1283.03" y="187.6" width="5" height="24.4" fill="#00ffff"/>
<rect x="1291.67" y="190.6" width="1.5" height="24.4" fill="#ff4040"/>
<rect x="1289.92" y="190.6" width="5" height="13.8" fill="#ff4040"/>
<rect x="1298.56" y="183.0" width="1.5" height="32.0" fill="#ff4040"/>
<rect x="1296.81" y="196.6" width="5" height="3.4" fill="#ff4040"/>
<rect x="1305.45" y="186.0" width="1.5" height="18.4" fill="#00ffff"/>
<rect x="1303.70" y="195.0" width="5" height="2.0" fill="#00ffff"/>
<rect x="1312.34" y="198.0" width="1.5" height="30.4" fill="#00ffff"/>
<rect x="1310.59" y="201.0" width="5" height="6.0" fill="#00ffff"/>
<rect x="1319.23" y="189.4" width="1.5" height="18.2" fill="#00ffff"/>
<rect x="1317.48" y="201.0" width="5" height="1.6" fill="#00ffff"/>
<rect x="1326.12" y="195.0" width="1.5" height="32.0" fill="#ff4040"/>
<rect x="1324.37" y="195.0" width="5" height="12.0" fill="#ff4040"/>
<rect x="1333.01" y="186.0" width="1.5" height="23.0" fill="#ff4040"/>
<rect x="1331.26" y="196.6" width="5" height="9.4" fill="#ff4040"/>
<rect x="1339.90" y="150.0" width="1.5" height="41.0" fill="#ff4040"/>
<rect x="1338.15" y="156.0" width="5" height="33.4" fill="#ff4040"/>
<rect x="1346.79" y="135.0" width="1.5" height="24.4" fill="#ff4040"/>
<rect x="1345.04" y="135.0" width="5" height="18.0" fill="#ff4040"/>
<rect x="1353.69" y="127.6" width="1.5" height="21.0" fill="#00ffff"/>
<rect x="1351.94" y="127.6" width="5" height="15.4" fill="#00ffff"/>
<rect x="1360.58" y="127.6" width="1.5" height="27.4" fill="#ff4040"/>
<rect x="1358.83" y="127.6" width="5" height="21.0" fill="#ff4040"/>
<rect x="1367.47" y="127.6" width="1.5" height="22.4" fill="#00ffff"/>
<rect x="1365.72" y="132.0" width="5" height="13.6" fill="#00ffff"/>
<rect x="1374.36" y="127.6" width="1.5" height="19.4" fill="#ff4040"/>
<rect x="1372.61" y="142.6" width="5" height="1.4" fill="#ff4040"/>
<rect x="1381.25" y="100.0" width="1.5" height="29.4" fill="#ff4040"/>
<rect x="1379.50" y="102.0" width="5" height="19.6" fill="#ff4040"/>
<rect x="1388.14" y="73.0" width="1.5" height="34.0" fill="#ff4040"/>
<rect x="1386.39" y="73.5" width="5" height="22.5" fill="#ff4040"/>
<rect x="1395.03" y="42.0" width="1.5" height="31.8" fill="#ff4040"/>
<rect x="1393.28" y="49.4" width="5" height="21.0" fill="#ff4040"/>
<rect x="1401.92" y="46.3" width="1.5" height="19.7" fill="#00ffff"/>
<rect x="1400.17" y="52.3" width="5" height="7.7" fill="#00ffff"/>
<rect x="1408.81" y="54.0" width="1.5" height="18.0" fill="#00ffff"/>
<rect x="1407.06" y="60.0" width="5" height="1.6" fill="#00ffff"/>
<rect x="1415.70" y="52.0" width="1.5" height="32.0" fill="#00ffff"/>
<rect x="1413.95" y="60.0" width="5" height="24.0" fill="#00ffff"/>
<rect x="1422.60" y="79.4" width="1.5" height="46.8" fill="#00ffff"/>
<rect x="1420.85" y="92.8" width="5" height="31.5" fill="#00ffff"/>
<rect x="1429.49" y="85.4" width="1.5" height="31.6" fill="#ff4040"/>
<rect x="1427.74" y="85.4" width="5" height="31.6" fill="#ff4040"/>
<rect x="1436.38" y="66.0" width="1.5" height="25.8" fill="#ff4040"/>
<rect x="1434.63" y="69.0" width="5" height="21.3" fill="#ff4040"/>
<rect x="1443.27" y="58.3" width="1.5" height="18.3" fill="#ff4040"/>
<rect x="1441.52" y="58.3" width="5" height="10.7" fill="#ff4040"/>
<path d="M75.7 127.0 L80.3 127.0 L80.3 134.7 L85.1 134.7 L85.1 136.0 L78.0 142.3 L70.9 136.0 L70.9 134.7 L75.7 134.7 Z" fill="none" stroke="#00e000" stroke-width="1.3" stroke-linejoin="miter"/>
<path d="M96.7 68.2 L101.3 68.2 L101.3 75.9 L106.1 75.9 L106.1 77.2 L99.0 83.5 L91.9 77.2 L91.9 75.9 L96.7 75.9 Z" fill="none" stroke="#00e000" stroke-width="1.3" stroke-linejoin="miter"/>
<path d="M213.7 42.1 L218.3 42.1 L218.3 49.8 L223.1 49.8 L223.1 51.1 L216.0 57.4 L208.9 51.1 L208.9 49.8 L213.7 49.8 Z" fill="none" stroke="#00e000" stroke-width="1.3" stroke-linejoin="miter"/>
<path d="M572.3 364.2 L576.9 364.2 L576.9 371.9 L581.7 371.9 L581.7 373.2 L574.6 379.5 L567.5 373.2 L567.5 371.9 L572.3 371.9 Z" fill="none" stroke="#00e000" stroke-width="1.3" stroke-linejoin="miter"/>
<path d="M593.3 352.2 L597.9 352.2 L597.9 359.9 L602.7 359.9 L602.7 361.2 L595.6 367.5 L588.5 361.2 L588.5 359.9 L593.3 359.9 Z" fill="none" stroke="#00e000" stroke-width="1.3" stroke-linejoin="miter"/>
<path d="M614.3 302.6 L618.9 302.6 L618.9 310.3 L623.7 310.3 L623.7 311.6 L616.6 317.9 L609.5 311.6 L609.5 310.3 L614.3 310.3 Z" fill="none" stroke="#00e000" stroke-width="1.3" stroke-linejoin="miter"/>
<path d="M758.2 287.3 L762.8 287.3 L762.8 295.0 L767.6 295.0 L767.6 296.3 L760.5 302.6 L753.4 296.3 L753.4 295.0 L758.2 295.0 Z" fill="none" stroke="#00e000" stroke-width="1.3" stroke-linejoin="miter"/>
<path d="M869.3 237.6 L873.9 237.6 L873.9 245.3 L878.7 245.3 L878.7 246.6 L871.6 252.9 L864.5 246.6 L864.5 245.3 L869.3 245.3 Z" fill="none" stroke="#00e000" stroke-width="1.3" stroke-linejoin="miter"/>
<path d="M965.7 130.0 L970.3 130.0 L970.3 137.7 L975.1 137.7 L975.1 139.0 L968.0 145.3 L960.9 139.0 L960.9 137.7 L965.7 137.7 Z" fill="none" stroke="#00e000" stroke-width="1.3" stroke-linejoin="miter"/>
<path d="M1158.7 160.2 L1163.3 160.2 L1163.3 167.9 L1168.1 167.9 L1168.1 169.2 L1161.0 175.5 L1153.9 169.2 L1153.9 167.9 L1158.7 167.9 Z" fill="none" stroke="#00e000" stroke-width="1.3" stroke-linejoin="miter"/>
<path d="M1214.1 148.2 L1218.7 148.2 L1218.7 155.9 L1223.5 155.9 L1223.5 157.2 L1216.4 163.5 L1209.3 157.2 L1209.3 155.9 L1214.1 155.9 Z" fill="none" stroke="#00e000" stroke-width="1.3" stroke-linejoin="miter"/>
<path d="M1269.7 118.0 L1274.3 118.0 L1274.3 125.7 L1279.1 125.7 L1279.1 127.0 L1272.0 133.3 L1264.9 127.0 L1264.9 125.7 L1269.7 125.7 Z" fill="none" stroke="#00e000" stroke-width="1.3" stroke-linejoin="miter"/>
<path d="M1365.7 109.0 L1370.3 109.0 L1370.3 116.7 L1375.1 116.7 L1375.1 118.0 L1368.0 124.3 L1360.9 118.0 L1360.9 116.7 L1365.7 116.7 Z" fill="none" stroke="#00e000" stroke-width="1.3" stroke-linejoin="miter"/>
<path d="M1408.6 42 L1416 49.3 L1423.6 42" fill="none" stroke="#00e000" stroke-width="1.3"/>
<path d="M912.0 114.4 L918.0 114.4 L918.0 121.4 L922.7 121.4 L922.7 123.8 L915.0 131.0 L907.3 123.8 L907.3 121.4 L912.0 121.4 Z" fill="#00ff00"/>
<path d="M181.4 252.0 L189.1 258.9 L189.1 260.7 L184.4 260.7 L184.4 268.5 L178.4 268.5 L178.4 260.7 L173.7 260.7 L173.7 258.9 Z" fill="#ff0000"/>
<path d="M361.4 442.6 L369.1 449.5 L369.1 451.3 L364.4 451.3 L364.4 459.1 L358.4 459.1 L358.4 451.3 L353.7 451.3 L353.7 449.5 Z" fill="#ff0000"/>
<path d="M436.6 463.6 L444.3 470.5 L444.3 472.3 L439.6 472.3 L439.6 480.1 L433.6 480.1 L433.6 472.3 L428.9 472.3 L428.9 470.5 Z" fill="#ff0000"/>
<path d="M485.8 459.3 L493.5 466.2 L493.5 468.0 L488.8 468.0 L488.8 475.8 L482.8 475.8 L482.8 468.0 L478.1 468.0 L478.1 466.2 Z" fill="#ff0000"/>
<path d="M505.5 481.6 L513.2 488.5 L513.2 490.3 L508.5 490.3 L508.5 498.1 L502.5 498.1 L502.5 490.3 L497.8 490.3 L497.8 488.5 Z" fill="#ff0000"/>
<path d="M795.0 387.3 L802.7 394.2 L802.7 396.0 L798.0 396.0 L798.0 403.8 L792.0 403.8 L792.0 396.0 L787.3 396.0 L787.3 394.2 Z" fill="#ff0000"/>
<path d="M982.4 246.0 L990.1 252.9 L990.1 254.7 L985.4 254.7 L985.4 262.5 L979.4 262.5 L979.4 254.7 L974.7 254.7 L974.7 252.9 Z" fill="#ff0000"/>
<path d="M1065.4 253.6 L1073.1 260.5 L1073.1 262.3 L1068.4 262.3 L1068.4 270.1 L1062.4 270.1 L1062.4 262.3 L1057.7 262.3 L1057.7 260.5 Z" fill="#ff0000"/>
<path d="M1291.6 218.0 L1299.3 224.9 L1299.3 226.7 L1294.6 226.7 L1294.6 234.5 L1288.6 234.5 L1288.6 226.7 L1283.9 226.7 L1283.9 224.9 Z" fill="#ff0000"/>
<path d="M201.2 16.4 L208.9 23.3 L208.9 25.1 L204.2 25.1 L204.2 32.9 L198.2 32.9 L198.2 25.1 L193.5 25.1 L193.5 23.3 Z" fill="#ff0000"/>
<rect x="0" y="136.55" width="1468.5" height="1.7" fill="#eaea00"/>
<rect x="0" y="260.84999999999997" width="1468.5" height="1.7" fill="#eaea00"/>
<rect x="0" y="318.25" width="1468.5" height="1.7" fill="#eaea00"/>
<line x1="0" y1="502.4" x2="1469" y2="54.7" stroke="#ffff00" stroke-width="1.5"/>
<line x1="447.4" y1="522" x2="1469" y2="211.5" stroke="#ffff00" stroke-width="1.5"/>
<rect x="1.30" y="624.4" width="5" height="88.6" fill="#ff4040"/>
<rect x="8.19" y="632.4" width="5" height="80.6" fill="#ff4040"/>
<rect x="15.08" y="592.4" width="5" height="120.6" fill="#ff4040"/>
<rect x="21.97" y="585.0" width="5" height="128.0" fill="#00ffff"/>
<rect x="28.86" y="612.0" width="5" height="101.0" fill="#00ffff"/>
<rect x="35.75" y="631.6" width="5" height="81.4" fill="#ff4040"/>
<rect x="42.65" y="635.0" width="5" height="78.0" fill="#ff4040"/>
<rect x="49.54" y="597.0" width="5" height="116.0" fill="#ff4040"/>
<rect x="56.43" y="595.6" width="5" height="117.4" fill="#ff4040"/>
<rect x="63.32" y="579.0" width="5" height="134.0" fill="#ff4040"/>
<rect x="70.21" y="577.6" width="5" height="135.4" fill="#00ffff"/>
<rect x="77.10" y="573.0" width="5" height="140.0" fill="#ff4040"/>
<rect x="83.99" y="591.0" width="5" height="122.0" fill="#ff4040"/>
<rect x="90.88" y="568.6" width="5" height="144.4" fill="#ff4040"/>
<rect x="97.77" y="587.0" width="5" height="126.0" fill="#00ffff"/>
<rect x="104.66" y="615.0" width="5" height="98.0" fill="#00ffff"/>
<rect x="111.56" y="631.6" width="5" height="81.4" fill="#00ffff"/>
<rect x="118.45" y="633.0" width="5" height="80.0" fill="#ff4040"/>
<rect x="125.34" y="631.6" width="5" height="81.4" fill="#ff4040"/>
<rect x="132.23" y="630.0" width="5" height="83.0" fill="#00ffff"/>
<rect x="139.12" y="615.0" width="5" height="98.0" fill="#ff4040"/>
<rect x="146.01" y="630.0" width="5" height="83.0" fill="#00ffff"/>
<rect x="152.90" y="628.0" width="5" height="85.0" fill="#ff4040"/>
<rect x="159.79" y="626.0" width="5" height="87.0" fill="#00ffff"/>
<rect x="166.68" y="639.0" width="5" height="74.0" fill="#00ffff"/>
<rect x="173.58" y="640.6" width="5" height="72.4" fill="#00ffff"/>
<rect x="180.47" y="634.0" width="5" height="79.0" fill="#ff4040"/>
<rect x="187.36" y="612.0" width="5" height="101.0" fill="#ff4040"/>
<rect x="194.25" y="604.4" width="5" height="108.6" fill="#00ffff"/>
<rect x="201.14" y="621.0" width="5" height="92.0" fill="#ff4040"/>
<rect x="208.03" y="617.0" width="5" height="96.0" fill="#00ffff"/>
<rect x="214.92" y="615.0" width="5" height="98.0" fill="#00ffff"/>
<rect x="221.81" y="631.0" width="5" height="82.0" fill="#ff4040"/>
<rect x="228.70" y="616.6" width="5" height="96.4" fill="#00ffff"/>
<rect x="235.59" y="627.0" width="5" height="86.0" fill="#00ffff"/>
<rect x="242.49" y="643.6" width="5" height="69.4" fill="#ff4040"/>
<rect x="249.38" y="639.0" width="5" height="74.0" fill="#00ffff"/>
<rect x="256.27" y="631.6" width="5" height="81.4" fill="#ff4040"/>
<rect x="263.16" y="624.0" width="5" height="89.0" fill="#ff4040"/>
<rect x="270.05" y="630.0" width="5" height="83.0" fill="#00ffff"/>
<rect x="276.94" y="633.0" width="5" height="80.0" fill="#ff4040"/>
<rect x="283.83" y="627.0" width="5" height="86.0" fill="#00ffff"/>
<rect x="290.72" y="636.0" width="5" height="77.0" fill="#00ffff"/>
<rect x="297.61" y="640.6" width="5" height="72.4" fill="#ff4040"/>
<rect x="304.50" y="627.0" width="5" height="86.0" fill="#00ffff"/>
<rect x="311.40" y="645.0" width="5" height="68.0" fill="#00ffff"/>
<rect x="318.29" y="637.4" width="5" height="75.6" fill="#00ffff"/>
<rect x="325.18" y="657.0" width="5" height="56.0" fill="#ff4040"/>
<rect x="332.07" y="645.0" width="5" height="68.0" fill="#00ffff"/>
<rect x="338.96" y="652.4" width="5" height="60.6" fill="#00ffff"/>
<rect x="345.85" y="655.4" width="5" height="57.6" fill="#ff4040"/>
<rect x="352.74" y="660.0" width="5" height="53.0" fill="#00ffff"/>
<rect x="359.63" y="639.0" width="5" height="74.0" fill="#ff4040"/>
<rect x="366.52" y="655.4" width="5" height="57.6" fill="#00ffff"/>
<rect x="373.41" y="657.0" width="5" height="56.0" fill="#ff4040"/>
<rect x="380.31" y="653.0" width="5" height="60.0" fill="#ff4040"/>
<rect x="387.20" y="652.4" width="5" height="60.6" fill="#ff4040"/>
<rect x="394.09" y="642.0" width="5" height="71.0" fill="#00ffff"/>
<rect x="400.98" y="654.0" width="5" height="59.0" fill="#00ffff"/>
<rect x="407.87" y="652.4" width="5" height="60.6" fill="#ff4040"/>
<rect x="414.76" y="650.0" width="5" height="63.0" fill="#00ffff"/>
<rect x="421.65" y="646.6" width="5" height="66.4" fill="#00ffff"/>
<rect x="428.54" y="658.6" width="5" height="54.4" fill="#00ffff"/>
<rect x="435.43" y="651.0" width="5" height="62.0" fill="#ff4040"/>
<rect x="442.32" y="649.6" width="5" height="63.4" fill="#ff4040"/>
<rect x="449.22" y="657.0" width="5" height="56.0" fill="#ff4040"/>
<rect x="456.11" y="654.0" width="5" height="59.0" fill="#00ffff"/>
<rect x="463.00" y="658.6" width="5" height="54.4" fill="#00ffff"/>
<rect x="469.89" y="654.6" width="5" height="58.4" fill="#00ffff"/>
<rect x="476.78" y="660.0" width="5" height="53.0" fill="#00ffff"/>
<rect x="483.67" y="660.0" width="5" height="53.0" fill="#00ffff"/>
<rect x="490.56" y="659.4" width="5" height="53.6" fill="#00ffff"/>
<rect x="497.45" y="667.6" width="5" height="45.4" fill="#ff4040"/>
<rect x="504.34" y="643.6" width="5" height="69.4" fill="#ff4040"/>
<rect x="511.23" y="649.6" width="5" height="63.4" fill="#00ffff"/>
<rect x="518.12" y="649.6" width="5" height="63.4" fill="#ff4040"/>
<rect x="525.02" y="651.0" width="5" height="62.0" fill="#00ffff"/>
<rect x="531.91" y="664.6" width="5" height="48.4" fill="#00ffff"/>
<rect x="538.80" y="667.6" width="5" height="45.4" fill="#ff4040"/>
<rect x="545.69" y="648.0" width="5" height="65.0" fill="#00ffff"/>
<rect x="552.58" y="643.6" width="5" height="69.4" fill="#ff4040"/>
<rect x="559.47" y="627.0" width="5" height="86.0" fill="#00ffff"/>
<rect x="566.36" y="639.0" width="5" height="74.0" fill="#00ffff"/>
<rect x="573.25" y="643.6" width="5" height="69.4" fill="#00ffff"/>
<rect x="580.14" y="652.4" width="5" height="60.6" fill="#ff4040"/>
<rect x="587.03" y="643.6" width="5" height="69.4" fill="#ff4040"/>
<rect x="593.93" y="648.0" width="5" height="65.0" fill="#00ffff"/>
<rect x="600.82" y="633.0" width="5" height="80.0" fill="#ff4040"/>
<rect x="607.71" y="645.0" width="5" height="68.0" fill="#ff4040"/>
<rect x="614.60" y="652.4" width="5" height="60.6" fill="#00ffff"/>
<rect x="621.49" y="657.0" width="5" height="56.0" fill="#00ffff"/>
<rect x="628.38" y="664.6" width="5" height="48.4" fill="#ff4040"/>
<rect x="635.27" y="652.4" width="5" height="60.6" fill="#00ffff"/>
<rect x="642.16" y="669.0" width="5" height="44.0" fill="#ff4040"/>
<rect x="649.05" y="669.0" width="5" height="44.0" fill="#00ffff"/>
<rect x="655.94" y="667.6" width="5" height="45.4" fill="#00ffff"/>
<rect x="662.84" y="669.0" width="5" height="44.0" fill="#ff4040"/>
<rect x="669.73" y="652.4" width="5" height="60.6" fill="#ff4040"/>
<rect x="676.62" y="666.0" width="5" height="47.0" fill="#00ffff"/>
<rect x="683.51" y="660.0" width="5" height="53.0" fill="#ff4040"/>
<rect x="690.40" y="664.6" width="5" height="48.4" fill="#00ffff"/>
<rect x="697.29" y="667.6" width="5" height="45.4" fill="#ff4040"/>
<rect x="704.18" y="666.0" width="5" height="47.0" fill="#00ffff"/>
<rect x="711.07" y="672.0" width="5" height="41.0" fill="#ff4040"/>
<rect x="717.96" y="660.0" width="5" height="53.0" fill="#ff4040"/>
<rect x="724.85" y="664.6" width="5" height="48.4" fill="#ff4040"/>
<rect x="731.75" y="670.6" width="5" height="42.4" fill="#00ffff"/>
<rect x="738.64" y="670.6" width="5" height="42.4" fill="#ff4040"/>
<rect x="745.53" y="667.6" width="5" height="45.4" fill="#ff4040"/>
<rect x="752.42" y="670.0" width="5" height="43.0" fill="#00ffff"/>
<rect x="759.31" y="670.6" width="5" height="42.4" fill="#ff4040"/>
<rect x="766.20" y="661.6" width="5" height="51.4" fill="#ff4040"/>
<rect x="773.09" y="668.0" width="5" height="45.0" fill="#00ffff"/>
<rect x="779.98" y="651.0" width="5" height="62.0" fill="#ff4040"/>
<rect x="786.87" y="669.0" width="5" height="44.0" fill="#00ffff"/>
<rect x="793.76" y="672.0" width="5" height="41.0" fill="#ff4040"/>
<rect x="800.66" y="667.6" width="5" height="45.4" fill="#00ffff"/>
<rect x="807.55" y="669.0" width="5" height="44.0" fill="#ff4040"/>
<rect x="814.44" y="672.0" width="5" height="41.0" fill="#00ffff"/>
<rect x="821.33" y="664.6" width="5" height="48.4" fill="#00ffff"/>
<rect x="828.22" y="661.6" width="5" height="51.4" fill="#ff4040"/>
<rect x="835.11" y="658.6" width="5" height="54.4" fill="#ff4040"/>
<rect x="842.00" y="639.0" width="5" height="74.0" fill="#ff4040"/>
<rect x="848.89" y="643.6" width="5" height="69.4" fill="#00ffff"/>
<rect x="855.78" y="655.6" width="5" height="57.4" fill="#00ffff"/>
<rect x="862.67" y="655.6" width="5" height="57.4" fill="#00ffff"/>
<rect x="869.57" y="654.0" width="5" height="59.0" fill="#ff4040"/>
<rect x="876.46" y="657.0" width="5" height="56.0" fill="#ff4040"/>
<rect x="883.35" y="645.0" width="5" height="68.0" fill="#ff4040"/>
<rect x="890.24" y="649.6" width="5" height="63.4" fill="#00ffff"/>
<rect x="897.13" y="648.0" width="5" height="65.0" fill="#00ffff"/>
<rect x="904.02" y="637.6" width="5" height="75.4" fill="#00ffff"/>
<rect x="910.91" y="642.0" width="5" height="71.0" fill="#ff4040"/>
<rect x="917.80" y="639.0" width="5" height="74.0" fill="#ff4040"/>
<rect x="924.69" y="640.0" width="5" height="73.0" fill="#ff4040"/>
<rect x="931.58" y="616.6" width="5" height="96.4" fill="#ff4040"/>
<rect x="938.48" y="636.0" width="5" height="77.0" fill="#00ffff"/>
<rect x="945.37" y="619.6" width="5" height="93.4" fill="#ff4040"/>
<rect x="952.26" y="622.6" width="5" height="90.4" fill="#00ffff"/>
<rect x="959.15" y="633.0" width="5" height="80.0" fill="#00ffff"/>
<rect x="966.04" y="643.6" width="5" height="69.4" fill="#00ffff"/>
<rect x="972.93" y="636.0" width="5" height="77.0" fill="#00ffff"/>
<rect x="979.82" y="631.6" width="5" height="81.4" fill="#00ffff"/>
<rect x="986.71" y="648.0" width="5" height="65.0" fill="#00ffff"/>
<rect x="993.60" y="648.0" width="5" height="65.0" fill="#ff4040"/>
<rect x="1000.50" y="645.0" width="5" height="68.0" fill="#00ffff"/>
<rect x="1007.39" y="648.0" width="5" height="65.0" fill="#00ffff"/>
<rect x="1014.28" y="642.0" width="5" height="71.0" fill="#ff4040"/>
<rect x="1021.17" y="643.6" width="5" height="69.4" fill="#00ffff"/>
<rect x="1028.06" y="643.6" width="5" height="69.4" fill="#00ffff"/>
<rect x="1034.95" y="657.0" width="5" height="56.0" fill="#ff4040"/>
<rect x="1041.84" y="664.6" width="5" height="48.4" fill="#00ffff"/>
<rect x="1048.73" y="666.0" width="5" height="47.0" fill="#00ffff"/>
<rect x="1055.62" y="667.6" width="5" height="45.4" fill="#ff4040"/>
<rect x="1062.51" y="658.6" width="5" height="54.4" fill="#ff4040"/>
<rect x="1069.40" y="651.0" width="5" height="62.0" fill="#00ffff"/>
<rect x="1076.30" y="645.0" width="5" height="68.0" fill="#ff4040"/>
<rect x="1083.19" y="642.0" width="5" height="71.0" fill="#00ffff"/>
<rect x="1090.08" y="652.4" width="5" height="60.6" fill="#00ffff"/>
<rect x="1096.97" y="660.0" width="5" height="53.0" fill="#ff4040"/>
<rect x="1103.86" y="655.6" width="5" height="57.4" fill="#00ffff"/>
<rect x="1110.75" y="655.6" width="5" height="57.4" fill="#00ffff"/>
<rect x="1117.64" y="658.6" width="5" height="54.4" fill="#ff4040"/>
<rect x="1124.53" y="658.6" width="5" height="54.4" fill="#00ffff"/>
<rect x="1131.42" y="658.6" width="5" height="54.4" fill="#ff4040"/>
<rect x="1138.32" y="658.6" width="5" height="54.4" fill="#ff4040"/>
<rect x="1145.21" y="636.0" width="5" height="77.0" fill="#ff4040"/>
<rect x="1152.10" y="631.6" width="5" height="81.4" fill="#00ffff"/>
<rect x="1158.99" y="648.0" width="5" height="65.0" fill="#00ffff"/>
<rect x="1165.88" y="655.6" width="5" height="57.4" fill="#00ffff"/>
<rect x="1172.77" y="658.6" width="5" height="54.4" fill="#ff4040"/>
<rect x="1179.66" y="657.0" width="5" height="56.0" fill="#ff4040"/>
<rect x="1186.55" y="658.6" width="5" height="54.4" fill="#ff4040"/>
<rect x="1193.44" y="657.0" width="5" height="56.0" fill="#00ffff"/>
<rect x="1200.33" y="661.6" width="5" height="51.4" fill="#ff4040"/>
<rect x="1207.22" y="657.0" width="5" height="56.0" fill="#00ffff"/>
<rect x="1214.12" y="658.6" width="5" height="54.4" fill="#00ffff"/>
<rect x="1221.01" y="664.6" width="5" height="48.4" fill="#00ffff"/>
<rect x="1227.90" y="669.0" width="5" height="44.0" fill="#ff4040"/>
<rect x="1234.79" y="666.0" width="5" height="47.0" fill="#ff4040"/>
<rect x="1241.68" y="664.6" width="5" height="48.4" fill="#00ffff"/>
<rect x="1248.57" y="669.0" width="5" height="44.0" fill="#ff4040"/>
<rect x="1255.46" y="657.0" width="5" height="56.0" fill="#ff4040"/>
<rect x="1262.35" y="655.6" width="5" height="57.4" fill="#00ffff"/>
<rect x="1269.24" y="666.0" width="5" height="47.0" fill="#00ffff"/>
<rect x="1276.13" y="652.6" width="5" height="60.4" fill="#00ffff"/>
<rect x="1283.03" y="661.6" width="5" height="51.4" fill="#00ffff"/>
<rect x="1289.92" y="666.0" width="5" height="47.0" fill="#ff4040"/>
<rect x="1296.81" y="667.6" width="5" height="45.4" fill="#ff4040"/>
<rect x="1303.70" y="670.6" width="5" height="42.4" fill="#00ffff"/>
<rect x="1310.59" y="670.6" width="5" height="42.4" fill="#00ffff"/>
<rect x="1317.48" y="670.6" width="5" height="42.4" fill="#00ffff"/>
<rect x="1324.37" y="666.0" width="5" height="47.0" fill="#ff4040"/>
<rect x="1331.26" y="670.6" width="5" height="42.4" fill="#ff4040"/>
<rect x="1338.15" y="660.0" width="5" height="53.0" fill="#ff4040"/>
<rect x="1345.04" y="657.0" width="5" height="56.0" fill="#ff4040"/>
<rect x="1351.94" y="654.0" width="5" height="59.0" fill="#00ffff"/>
<rect x="1358.83" y="649.6" width="5" height="63.4" fill="#ff4040"/>
<rect x="1365.72" y="648.0" width="5" height="65.0" fill="#00ffff"/>
<rect x="1372.61" y="648.0" width="5" height="65.0" fill="#ff4040"/>
<rect x="1379.50" y="645.0" width="5" height="68.0" fill="#ff4040"/>
<rect x="1386.39" y="633.0" width="5" height="80.0" fill="#ff4040"/>
<rect x="1393.28" y="622.6" width="5" height="90.4" fill="#ff4040"/>
<rect x="1400.17" y="625.6" width="5" height="87.4" fill="#00ffff"/>
<rect x="1407.06" y="630.0" width="5" height="83.0" fill="#00ffff"/>
<rect x="1413.95" y="633.0" width="5" height="80.0" fill="#00ffff"/>
<rect x="1420.85" y="643.6" width="5" height="69.4" fill="#00ffff"/>
<rect x="1427.74" y="652.6" width="5" height="60.4" fill="#ff4040"/>
<rect x="1434.63" y="645.0" width="5" height="68.0" fill="#ff4040"/>
<rect x="1441.52" y="648.0" width="5" height="65.0" fill="#ff4040"/>
<polyline points="3.8,639.3 10.7,636.4 17.6,626.0 24.5,614.6 31.4,609.2 38.3,610.7 45.1,611.2 52.0,612.1 58.9,614.2 65.8,607.6 72.7,596.8 79.6,584.4 86.5,583.2 93.4,577.8 100.3,579.4 107.2,586.9 114.1,598.6 120.9,607.0 127.8,619.6 134.7,628.2 141.6,628.2 148.5,627.9 155.4,626.9 162.3,625.8 169.2,627.6 176.1,632.7 183.0,633.5 189.9,630.3 196.7,626.0 203.6,622.4 210.5,617.7 217.4,613.9 224.3,617.7 231.2,620.1 238.1,621.3 245.0,626.6 251.9,631.4 258.8,631.6 265.7,633.0 272.5,633.6 279.4,631.5 286.3,629.1 293.2,630.0 300.1,633.3 307.0,632.7 313.9,635.1 320.8,637.2 327.7,641.4 334.6,642.3 341.5,647.4 348.4,649.4 355.2,654.0 362.1,650.4 369.0,652.4 375.9,653.4 382.8,652.9 389.7,651.4 396.6,652.0 403.5,651.7 410.4,650.8 417.3,650.2 424.2,649.0 431.0,652.3 437.9,651.7 444.8,651.2 451.7,652.6 458.6,654.0 465.5,654.0 472.4,654.8 479.3,656.8 486.2,657.4 493.1,658.5 500.0,660.3 506.8,658.1 513.7,656.0 520.6,654.0 527.5,652.3 534.4,651.7 541.3,656.5 548.2,656.2 555.1,655.0 562.0,650.2 568.9,645.0 575.8,640.2 582.6,641.1 589.5,641.1 596.4,645.3 603.3,644.1 610.2,644.4 617.1,644.4 624.0,647.1 630.9,650.4 637.8,654.3 644.7,659.1 651.6,662.4 658.4,664.5 665.3,665.4 672.2,665.4 679.1,664.8 686.0,663.0 692.9,662.4 699.8,662.1 706.7,664.8 713.6,666.0 720.5,666.0 727.4,666.0 734.2,666.6 741.1,667.6 748.0,666.7 754.9,668.7 761.8,669.9 768.7,668.1 775.6,667.6 782.5,664.2 789.4,664.0 796.3,664.3 803.2,665.5 810.0,665.7 816.9,669.9 823.8,669.0 830.7,667.0 837.6,665.2 844.5,659.2 851.4,653.5 858.3,651.7 865.2,650.5 872.1,649.6 879.0,653.2 885.8,653.4 892.7,652.2 899.6,650.7 906.5,647.4 913.4,644.4 920.3,643.2 927.2,641.3 934.1,635.0 941.0,634.7 947.9,630.2 954.8,627.0 961.6,625.6 968.5,631.0 975.4,631.0 982.3,633.4 989.2,638.4 996.1,641.4 1003.0,641.7 1009.9,644.1 1016.8,646.2 1023.7,645.3 1030.6,644.4 1037.5,646.8 1044.3,650.2 1051.2,655.0 1058.1,659.8 1065.0,662.8 1071.9,661.6 1078.8,657.6 1085.7,652.8 1092.6,649.8 1099.5,650.1 1106.4,651.0 1113.3,653.1 1120.1,656.4 1127.0,657.7 1133.9,657.4 1140.8,658.0 1147.7,654.1 1154.6,648.7 1161.5,646.6 1168.4,646.0 1175.3,646.0 1182.2,650.2 1189.1,655.6 1195.9,657.4 1202.8,658.6 1209.7,658.2 1216.6,658.6 1223.5,659.8 1230.4,662.2 1237.3,663.0 1244.2,664.6 1251.1,666.6 1258.0,665.1 1264.9,662.4 1271.7,662.4 1278.6,660.0 1285.5,658.6 1292.4,660.4 1299.3,662.8 1306.2,663.7 1313.1,667.3 1320.0,669.1 1326.9,669.1 1333.8,669.7 1340.7,667.6 1347.5,664.8 1354.4,661.5 1361.3,658.2 1368.2,653.7 1375.1,651.3 1382.0,648.9 1388.9,644.7 1395.8,639.3 1402.7,634.8 1409.6,631.2 1416.5,628.8 1423.3,631.0 1430.2,637.0 1437.1,640.8 1444.0,644.4" fill="none" stroke="#ffffff" stroke-width="1.15" stroke-linejoin="round"/>
<polyline points="3.8,650.6 10.7,647.6 17.6,640.5 24.5,632.8 31.4,627.9 38.3,625.0 45.1,623.8 52.0,619.1 58.9,614.4 65.8,608.4 72.7,603.8 79.6,597.8 86.5,597.7 93.4,596.0 100.3,593.5 107.2,591.9 114.1,591.5 120.9,595.1 127.8,598.7 134.7,603.8 141.6,607.6 148.5,613.3 155.4,617.0 162.3,622.7 169.2,627.9 176.1,630.5 183.0,630.7 189.9,628.6 196.7,625.9 203.6,625.0 210.5,625.2 217.4,623.7 224.3,624.0 231.2,623.1 238.1,621.9 245.0,622.2 251.9,622.7 258.8,624.6 265.7,626.6 272.5,627.5 279.4,629.1 286.3,630.3 293.2,630.8 300.1,633.2 307.0,633.2 313.9,633.3 320.8,633.2 327.7,635.7 334.6,637.8 341.5,640.0 348.4,642.3 355.2,645.6 362.1,645.9 369.0,647.4 375.9,650.4 382.8,651.2 389.7,652.7 396.6,651.2 403.5,652.1 410.4,652.1 417.3,651.5 424.2,650.2 431.0,652.1 437.9,651.7 444.8,651.0 451.7,651.4 458.6,651.5 465.5,653.2 472.4,653.2 479.3,654.0 486.2,655.0 493.1,656.3 500.0,657.2 506.8,656.4 513.7,656.4 520.6,655.7 527.5,655.4 534.4,656.0 541.3,657.3 548.2,656.1 555.1,654.5 562.0,651.2 568.9,648.4 575.8,648.4 582.6,648.6 589.5,648.0 596.4,647.7 603.3,644.6 610.2,642.3 617.1,642.8 624.0,644.1 630.9,647.9 637.8,649.2 644.7,651.7 651.6,653.4 658.4,655.8 665.3,657.9 672.2,659.8 679.1,661.9 686.0,662.7 692.9,663.5 699.8,663.8 706.7,665.1 713.6,665.4 720.5,664.5 727.4,664.2 734.2,664.4 741.1,666.2 748.0,666.4 754.9,667.4 761.8,668.0 768.7,667.4 775.6,667.6 782.5,665.5 789.4,666.4 796.3,667.1 803.2,666.8 810.0,666.6 816.9,667.1 823.8,666.5 830.7,665.6 837.6,665.3 844.5,662.4 851.4,661.7 858.3,660.4 865.2,658.7 872.1,657.4 879.0,656.2 885.8,653.5 892.7,652.0 899.6,650.6 906.5,648.5 913.4,648.8 920.3,648.3 927.2,646.8 934.1,642.9 941.0,641.1 947.9,637.3 954.8,635.1 961.6,633.4 968.5,633.0 975.4,632.8 982.3,631.8 989.2,632.7 996.1,633.5 1003.0,636.3 1009.9,637.5 1016.8,639.8 1023.7,641.9 1030.6,642.9 1037.5,644.3 1044.3,647.1 1051.2,650.6 1058.1,652.5 1065.0,653.6 1071.9,654.2 1078.8,653.9 1085.7,653.9 1092.6,654.8 1099.5,656.4 1106.4,656.3 1113.3,655.4 1120.1,654.6 1127.0,653.7 1133.9,653.7 1140.8,654.5 1147.7,653.6 1154.6,652.6 1161.5,652.1 1168.4,651.7 1175.3,652.0 1182.2,652.1 1189.1,652.1 1195.9,652.0 1202.8,652.3 1209.7,652.1 1216.6,654.4 1223.5,657.7 1230.4,659.8 1237.3,660.8 1244.2,661.4 1251.1,662.6 1258.0,662.4 1264.9,662.3 1271.7,662.7 1278.6,662.3 1285.5,662.6 1292.4,662.7 1299.3,662.6 1306.2,663.1 1313.1,663.7 1320.0,663.8 1326.9,664.7 1333.8,666.2 1340.7,665.6 1347.5,666.1 1354.4,665.3 1361.3,663.7 1368.2,661.7 1375.1,659.4 1382.0,656.9 1388.9,653.1 1395.8,648.8 1402.7,644.3 1409.6,641.3 1416.5,638.9 1423.3,637.8 1430.2,638.1 1437.1,637.8 1444.0,637.8" fill="none" stroke="#ffff00" stroke-width="1.15" stroke-linejoin="round"/>
<polyline points="3.8,778.2 10.7,774.4 17.6,771.3 24.5,776.0 31.4,784.2 38.3,786.9 45.1,782.1 52.0,780.7 58.9,775.3 65.8,772.2 72.7,773.9 79.6,782.0 86.5,776.3 93.4,774.7 100.3,785.2 107.2,804.7 114.1,818.2 120.9,819.6 127.8,819.9 134.7,824.9 141.6,824.7 148.5,826.9 155.4,832.7 162.3,846.5 169.2,850.0 176.1,855.9 183.0,837.6 189.9,814.5 196.7,802.8 203.6,791.9 210.5,784.5 217.4,789.2 224.3,791.9 231.2,797.7 238.1,809.9 245.0,827.6 251.9,844.0 258.8,840.4 265.7,833.3 272.5,831.7 279.4,821.5 286.3,818.1 293.2,819.7 300.1,805.5 307.0,816.2 313.9,828.4 320.8,843.0 327.7,849.5 334.6,857.1 341.5,859.2 348.4,862.6 355.2,866.7 362.1,859.9 369.0,858.8 375.9,858.8 382.8,850.6 389.7,833.1 396.6,839.5 403.5,844.0 410.4,836.6 417.3,833.6 424.2,847.4 431.0,855.3 437.9,842.2 444.8,828.4 451.7,822.5 458.6,814.8 465.5,811.0 472.4,816.5 479.3,827.5 486.2,837.9 493.1,849.2 500.0,850.5 506.8,829.4 513.7,818.4 520.6,808.7 527.5,813.3 534.4,819.9 541.3,817.4 548.2,813.4 555.1,801.1 562.0,792.6 568.9,790.6 575.8,795.2 582.6,796.3 589.5,789.0 596.4,789.2 603.3,781.5 610.2,777.0 617.1,784.9 624.0,794.6 630.9,794.8 637.8,813.7 644.7,823.6 651.6,833.9 658.4,838.8 665.3,840.2 672.2,825.1 679.1,812.0 686.0,802.5 692.9,810.7 699.8,807.2 706.7,819.4 713.6,816.6 720.5,804.2 727.4,791.9 734.2,787.3 741.1,781.1 748.0,781.4 754.9,786.5 761.8,788.0 768.7,797.6 775.6,823.9 782.5,831.7 789.4,839.5 796.3,837.1 803.2,840.6 810.0,829.5 816.9,828.0 823.8,819.5 830.7,805.5 837.6,797.6 844.5,786.5 851.4,784.0 858.3,783.1 865.2,781.5 872.1,779.4 879.0,782.8 885.8,781.6 892.7,784.8 899.6,793.2 906.5,806.6 913.4,795.7 920.3,786.5 927.2,779.2 934.1,780.7 941.0,781.1 947.9,775.5 954.8,774.7 961.6,780.2 968.5,782.7 975.4,786.0 982.3,803.8 989.2,823.9 996.1,821.9 1003.0,820.8 1009.9,831.3 1016.8,832.6 1023.7,845.5 1030.6,855.8 1037.5,853.4 1044.3,859.8 1051.2,864.4 1058.1,862.2 1065.0,844.0 1071.9,831.8 1078.8,814.0 1085.7,809.7 1092.6,809.3 1099.5,807.7 1106.4,811.1 1113.3,814.8 1120.1,812.6 1127.0,820.8 1133.9,824.8 1140.8,805.6 1147.7,792.3 1154.6,792.3 1161.5,794.2 1168.4,801.1 1175.3,799.8 1182.2,791.7 1189.1,785.1 1195.9,787.7 1202.8,785.5 1209.7,789.1 1216.6,813.1 1223.5,825.8 1230.4,829.5 1237.3,826.7 1244.2,833.7 1251.1,834.7 1258.0,812.5 1264.9,807.1 1271.7,806.5 1278.6,819.6 1285.5,834.5 1292.4,837.2 1299.3,841.0 1306.2,843.7 1313.1,847.7 1320.0,848.9 1326.9,845.7 1333.8,844.1 1340.7,820.4 1347.5,801.7 1354.4,795.0 1361.3,784.8 1368.2,784.7 1375.1,783.6 1382.0,777.8 1388.9,773.5 1395.8,772.3 1402.7,775.4 1409.6,778.2 1416.5,787.5 1423.3,808.3 1430.2,809.1 1437.1,805.8 1444.0,799.2" fill="none" stroke="#ffffff" stroke-width="1.15" stroke-linejoin="round"/>
<polyline points="3.8,778.7 10.7,777.3 17.6,775.3 24.5,775.5 31.4,778.4 38.3,781.2 45.1,781.5 52.0,781.3 58.9,779.3 65.8,776.9 72.7,775.9 79.6,778.0 86.5,777.4 93.4,776.5 100.3,779.4 107.2,787.8 114.1,797.9 120.9,805.2 127.8,810.1 134.7,815.0 141.6,818.2 148.5,821.1 155.4,825.0 162.3,832.2 169.2,838.1 176.1,844.0 183.0,841.9 189.9,832.8 196.7,822.8 203.6,812.5 210.5,803.1 217.4,798.5 224.3,796.3 231.2,796.8 238.1,801.1 245.0,810.0 251.9,821.3 258.8,827.7 265.7,829.6 272.5,830.3 279.4,827.4 286.3,824.3 293.2,822.8 300.1,817.0 307.0,816.7 313.9,820.6 320.8,828.1 327.7,835.2 334.6,842.5 341.5,848.1 348.4,852.9 355.2,857.5 362.1,858.3 369.0,858.5 375.9,858.6 382.8,855.9 389.7,848.3 396.6,845.4 403.5,844.9 410.4,842.1 417.3,839.3 424.2,842.0 431.0,846.4 437.9,845.0 444.8,839.5 451.7,833.8 458.6,827.5 465.5,822.0 472.4,820.2 479.3,822.6 486.2,827.7 493.1,834.9 500.0,840.1 506.8,836.5 513.7,830.5 520.6,823.2 527.5,819.9 534.4,819.9 541.3,819.1 548.2,817.2 555.1,811.8 562.0,805.4 568.9,800.5 575.8,798.7 582.6,797.9 589.5,795.0 596.4,793.0 603.3,789.2 610.2,785.1 617.1,785.0 624.0,788.2 630.9,790.4 637.8,798.2 644.7,806.6 651.6,815.7 658.4,823.4 665.3,829.0 672.2,827.7 679.1,822.5 686.0,815.8 692.9,814.1 699.8,811.8 706.7,814.3 713.6,815.1 720.5,811.5 727.4,804.9 734.2,799.0 741.1,793.1 748.0,789.2 754.9,788.3 761.8,788.2 768.7,791.3 775.6,802.2 782.5,812.0 789.4,821.2 796.3,826.5 803.2,831.2 810.0,830.6 816.9,829.7 823.8,826.3 830.7,819.4 837.6,812.1 844.5,803.6 851.4,797.1 858.3,792.4 865.2,788.8 872.1,785.7 879.0,784.7 885.8,783.7 892.7,784.1 899.6,787.1 906.5,793.6 913.4,794.3 920.3,791.7 927.2,787.5 934.1,785.2 941.0,783.8 947.9,781.1 954.8,778.9 961.6,779.4 968.5,780.5 975.4,782.3 982.3,789.5 989.2,801.0 996.1,808.0 1003.0,812.2 1009.9,818.6 1016.8,823.3 1023.7,830.7 1030.6,839.1 1037.5,843.8 1044.3,849.1 1051.2,854.2 1058.1,856.9 1065.0,852.6 1071.9,845.6 1078.8,835.1 1085.7,826.6 1092.6,820.9 1099.5,816.5 1106.4,814.7 1113.3,814.7 1120.1,814.0 1127.0,816.3 1133.9,819.1 1140.8,814.6 1147.7,807.2 1154.6,802.2 1161.5,799.5 1168.4,800.1 1175.3,800.0 1182.2,797.2 1189.1,793.2 1195.9,791.3 1202.8,789.4 1209.7,789.3 1216.6,797.2 1223.5,806.8 1230.4,814.3 1237.3,818.5 1244.2,823.5 1251.1,827.2 1258.0,822.3 1264.9,817.3 1271.7,813.7 1278.6,815.6 1285.5,821.9 1292.4,827.0 1299.3,831.7 1306.2,835.7 1313.1,839.7 1320.0,842.7 1326.9,843.7 1333.8,843.9 1340.7,836.0 1347.5,824.6 1354.4,814.7 1361.3,804.8 1368.2,798.1 1375.1,793.3 1382.0,788.1 1388.9,783.2 1395.8,779.6 1402.7,778.2 1409.6,778.2 1416.5,781.3 1423.3,790.3 1430.2,796.6 1437.1,799.6 1444.0,799.5" fill="none" stroke="#ffff00" stroke-width="1.15" stroke-linejoin="round"/>
<polyline points="3.8,777.2 10.7,768.7 17.6,763.3 24.5,776.8 31.4,795.8 38.3,798.1 45.1,783.3 52.0,779.7 58.9,767.3 65.8,762.7 72.7,769.9 79.6,790.1 86.5,774.1 93.4,771.0 100.3,796.7 107.2,838.6 114.1,858.6 120.9,848.5 127.8,839.6 134.7,844.7 141.6,837.5 148.5,838.4 155.4,848.2 162.3,875.1 169.2,873.7 176.1,879.7 183.0,829.0 189.9,778.0 196.7,762.8 203.6,750.7 210.5,747.1 217.4,770.7 224.3,783.0 231.2,799.5 238.1,827.3 245.0,863.0 251.9,889.3 258.8,865.9 265.7,840.8 272.5,834.6 279.4,809.8 286.3,805.9 293.2,813.6 300.1,782.6 307.0,815.0 313.9,843.9 320.8,872.8 327.7,878.1 334.6,886.2 341.5,881.4 348.4,881.9 355.2,885.2 362.1,863.2 369.0,859.5 375.9,859.2 382.8,839.9 389.7,802.8 396.6,827.8 403.5,842.1 410.4,825.4 417.3,822.2 424.2,858.1 431.0,873.0 437.9,836.7 444.8,806.3 451.7,799.9 458.6,789.5 465.5,788.9 472.4,809.3 479.3,837.2 486.2,858.3 493.1,877.9 500.0,871.3 506.8,815.2 513.7,794.2 520.6,779.6 527.5,800.2 534.4,820.0 541.3,814.0 548.2,805.9 555.1,779.6 562.0,767.0 568.9,770.9 575.8,788.3 582.6,793.2 589.5,777.0 596.4,781.5 603.3,766.2 610.2,760.7 617.1,784.5 624.0,807.4 630.9,803.4 637.8,844.9 644.7,857.4 651.6,870.3 658.4,869.5 665.3,862.5 672.2,819.9 679.1,791.1 686.0,776.0 692.9,803.9 699.8,797.9 706.7,829.5 713.6,819.5 720.5,789.8 727.4,765.7 734.2,763.7 741.1,757.3 748.0,765.8 754.9,783.0 761.8,787.6 768.7,810.1 775.6,867.4 782.5,871.1 789.4,876.2 796.3,858.3 803.2,859.4 810.0,827.3 816.9,824.4 823.8,805.9 830.7,777.8 837.6,768.5 844.5,752.4 851.4,757.9 858.3,764.6 865.2,767.0 872.1,766.9 879.0,779.1 885.8,777.4 892.7,786.3 899.6,805.3 906.5,832.5 913.4,798.4 920.3,776.2 927.2,762.5 934.1,771.5 941.0,775.5 947.9,764.4 954.8,766.1 961.6,782.0 968.5,787.3 975.4,793.3 982.3,832.5 989.2,869.8 996.1,849.9 1003.0,838.0 1009.9,856.8 1016.8,851.3 1023.7,875.0 1030.6,889.4 1037.5,872.5 1044.3,881.0 1051.2,884.8 1058.1,872.8 1065.0,826.7 1071.9,804.1 1078.8,771.9 1085.7,775.8 1092.6,786.3 1099.5,790.0 1106.4,803.9 1113.3,815.1 1120.1,809.7 1127.0,830.0 1133.9,836.2 1140.8,787.6 1147.7,762.5 1154.6,772.5 1161.5,783.4 1168.4,803.1 1175.3,799.6 1182.2,780.6 1189.1,768.9 1195.9,780.3 1202.8,777.7 1209.7,788.8 1216.6,844.7 1223.5,864.0 1230.4,859.8 1237.3,843.2 1244.2,853.9 1251.1,849.6 1258.0,792.9 1264.9,786.8 1271.7,792.1 1278.6,827.5 1285.5,859.7 1292.4,857.5 1299.3,859.7 1306.2,859.7 1313.1,863.6 1320.0,861.1 1326.9,849.6 1333.8,844.7 1340.7,789.2 1347.5,756.0 1354.4,755.5 1361.3,744.9 1368.2,757.9 1375.1,764.4 1382.0,757.2 1388.9,754.0 1395.8,757.7 1402.7,769.8 1409.6,778.3 1416.5,799.9 1423.3,844.3 1430.2,834.2 1437.1,818.0 1444.0,798.7" fill="none" stroke="#ff00ff" stroke-width="1.15" stroke-linejoin="round"/>
<path d="M0 450.5 L12.4 466 L12.4 515.6 L0 530.5 Z" fill="rgba(150,150,150,0.38)" stroke="rgba(175,175,175,0.75)" stroke-width="1"/>
<path d="M1.9 483.4 L7.4 489.6 L1.9 495.8 Z" fill="#e09000"/>
<circle cx="225" cy="25.5" r="8.8" fill="#6e6e6e"/>
<path d="M220.5 23.7 L225 28.3 L229.5 23.7" fill="none" stroke="#d8d8d8" stroke-width="1.4"/>
<circle cx="12" cy="551" r="8.8" fill="#6e6e6e"/>
<path d="M7.5 549.2 L12 553.8 L16.5 549.2" fill="none" stroke="#d8d8d8" stroke-width="1.4"/>
<circle cx="12" cy="727.5" r="8.8" fill="#6e6e6e"/>
<path d="M7.5 725.7 L12 730.3 L16.5 725.7" fill="none" stroke="#d8d8d8" stroke-width="1.4"/>
<path d="M1427.2 18.3 L1435.3 26.4 L1427.2 34.5 L1419.1 26.4 Z" fill="none" stroke="#787878" stroke-width="1.3"/>
<rect x="1446.6" y="19.4" width="17" height="14.2" rx="2.5" fill="none" stroke="#787878" stroke-width="1.4"/>
<rect x="1456.4" y="21.3" width="5" height="10.4" fill="#a0a0a0"/>
<path d="M3.7 512.2 L21 512.2 M7.2 509.6 L3.9 512.2 L7.2 514.8" fill="none" stroke="#cccccc" stroke-width="1.2"/>
<path d="M1363.6 48.7 L1393.5 43.6 M1387 41.2 L1393.8 43.6 L1388.6 48.2" fill="none" stroke="#cccccc" stroke-width="1.2"/>
</svg>
<div class="t" id="title" style="left:4px;top:14px;font-size:18px;line-height:24px;font-weight:300;letter-spacing:0.2px">创业板指(日线.前复权)</div>


<div class="t " id="s1" style="left:26.65px;top:541.5px;letter-spacing:-0.388px">VOLUME:</div>
<div class="t " id="s2" style="left:109.87px;top:541.5px;letter-spacing:0.305px">77388720.00</div>
<div class="t " id="s3" style="left:226.88px;top:541.5px;letter-spacing:-0.908px">MA5:</div>
<div class="t " id="s4" style="left:269.33px;top:541.5px;letter-spacing:0.386px">82017592.00</div>
<div class="t y" id="s5" style="left:386.55px;top:541.5px;letter-spacing:-0.215px">MA10:</div>
<div class="t y" id="s6" style="left:441.28px;top:541.5px;letter-spacing:0.408px">90278720.00</div>

<div class="t " id="k1" style="left:26.11px;top:718.1px;letter-spacing:0.168px">KDJ(9,3,3)</div>
<div class="t " id="k2" style="left:121.64px;top:718.1px;letter-spacing:-0.041px">K:</div>
<div class="t " id="k3" style="left:143.69px;top:718.1px;letter-spacing:0.050px">68.60</div>
<div class="t y" id="k4" style="left:196.37px;top:718.1px;letter-spacing:0.822px">D:</div>
<div class="t y" id="k5" style="left:220.33px;top:718.1px;letter-spacing:-0.127px">68.46</div>
<div class="t m" id="k6" style="left:272.96px;top:718.1px;letter-spacing:0.800px">J:</div>
<div class="t m" id="k7" style="left:292.02px;top:718.1px;letter-spacing:-0.276px">68.90</div>
<div class="t " id="l1" style="left:1292.73px;top:41.2px;letter-spacing:0.394px">1807.95</div>
<div class="t " id="l2" style="left:23.26px;top:504.3px;letter-spacing:0.257px">1401.77</div>

</body></html>
